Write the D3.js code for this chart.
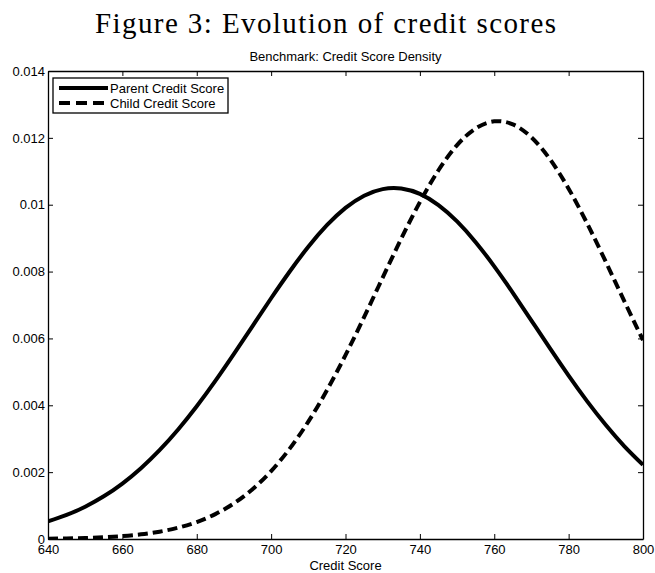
<!DOCTYPE html>
<html>
<head>
<meta charset="utf-8">
<script src="https://cdn.jsdelivr.net/npm/d3@7"></script>
<style>
  body { margin: 0; background: #fff; }
  text { font-family: "Liberation Sans", Arial, sans-serif; }
</style>
</head>
<body>
<div id="chart-area"></div>
<script>
// credit score grid (x values)
var scores = [640,645,650,655,660,665,670,675,680,685,690,695,700,705,710,715,720,
    725,730,735,740,745,750,755,760,765,770,775,780,785,790,795,800];

var parentDensity = [0.000525,0.000719,0.000967,0.001277,0.001659,0.002118,0.002657,
    0.003276,0.003970,0.004728,0.005536,0.006368,0.007202,0.008003,0.008742,0.009386,
    0.009904,0.010270,0.010467,0.010485,0.010324,0.009989,0.009500,0.008880,0.008157,
    0.007365,0.006536,0.005700,0.004887,0.004117,0.003409,0.002774,0.002219];

var childDensity = [0.0000098,0.0000175,0.0000305,0.0000518,0.0000859,0.000139,0.000219,
    0.000338,0.000508,0.000745,0.001067,0.001490,0.002031,0.002704,0.003510,0.004449,
    0.005501,0.006639,0.007819,0.008986,0.010079,0.011031,0.011783,0.012282,0.012494,
    0.012403,0.012015,0.011359,0.010480,0.009435,0.008291,0.007109,0.005948];

var xTicks = [640,660,680,700,720,740,760,780,800];
var yTicks = [0,0.002,0.004,0.006,0.008,0.01,0.012,0.014];
var seriesNames = ["Parent Credit Score", "Child Credit Score"];

var margin = { left: 48, right: 12, top: 71, bottom: 34 };
var width = 655 - margin.left - margin.right;
var height = 573 - margin.top - margin.bottom;

var svg = d3.select("#chart-area").append("svg")
    .attr("width", 655)
    .attr("height", 573);

// figure caption
svg.append("text")
    .attr("x", 95)
    .attr("y", 33)
    .style("font-family", "'Liberation Serif', 'DejaVu Serif', serif")
    .attr("font-size", "29px")
    .attr("textLength", 461)
    .attr("lengthAdjust", "spacing")
    .text("Figure 3: Evolution of credit scores");

var g = svg.append("g")
    .attr("transform", "translate(" + margin.left + ", " + margin.top + ")");

var x = d3.scaleLinear().domain([640, 800]).range([0, width]);
var y = d3.scaleLinear().domain([0, 0.014]).range([height, 0]);

// plot title
g.append("text")
    .attr("x", width / 2)
    .attr("y", -10)
    .attr("text-anchor", "middle")
    .attr("font-size", "13px")
    .text("Benchmark: Credit Score Density");

g.append("defs").append("clipPath").attr("id", "clip")
    .append("rect").attr("width", width).attr("height", height);

// curves
var line = d3.line()
    .x((d) => x(d[0]))
    .y((d) => y(d[1]))
    .curve(d3.curveNatural);

g.append("path")
    .datum(scores.map((s, i) => [s, parentDensity[i]]))
    .attr("clip-path", "url(#clip)")
    .attr("fill", "none")
    .attr("stroke", "black")
    .attr("stroke-width", 4)
    .attr("d", line);

g.append("path")
    .datum(scores.map((s, i) => [s, childDensity[i]]))
    .attr("clip-path", "url(#clip)")
    .attr("fill", "none")
    .attr("stroke", "black")
    .attr("stroke-width", 4)
    .attr("stroke-dasharray", "10,5")
    .attr("d", line);

// axes, MATLAB style: ticks inside on all four sides
var fmtY = (d) => d === 0 ? "0" : d3.format("")(+d.toFixed(3));

g.append("g")
    .attr("class", "bottom axis")
    .attr("transform", "translate(0, " + height + ")")
    .call(d3.axisBottom(x).tickValues(xTicks).tickSizeInner(-5).tickSizeOuter(0).tickPadding(6))
    .call((a) => a.selectAll("text").attr("font-size", "13px").style("font-family", "'Liberation Sans', Arial, sans-serif"));

g.append("g")
    .attr("class", "left axis")
    .call(d3.axisLeft(y).tickValues(yTicks).tickFormat(fmtY).tickSizeInner(-5).tickSizeOuter(0).tickPadding(3))
    .call((a) => a.selectAll("text").attr("font-size", "13px").style("font-family", "'Liberation Sans', Arial, sans-serif"));

g.append("g")
    .attr("class", "top axis")
    .call(d3.axisTop(x).tickValues(xTicks).tickFormat("").tickSizeInner(-5).tickSizeOuter(0));

g.append("g")
    .attr("class", "right axis")
    .attr("transform", "translate(" + width + ", 0)")
    .call(d3.axisRight(y).tickValues(yTicks).tickFormat("").tickSizeInner(-5).tickSizeOuter(0));

g.selectAll(".axis path").attr("stroke", "black").attr("stroke-width", 1.3);
g.selectAll(".axis line").attr("stroke", "black");

// x label
g.append("text")
    .attr("x", width / 2)
    .attr("y", height + 31)
    .attr("text-anchor", "middle")
    .attr("font-size", "13px")
    .text("Credit Score");

// legend
var legend = g.append("g").attr("transform", "translate(5, 7)");
legend.append("rect")
    .attr("width", 175)
    .attr("height", 35)
    .attr("fill", "white")
    .attr("stroke", "black")
    .attr("stroke-width", 1.3);

seriesNames.forEach((name, i) => {
    var ly = 10 + i * 15;
    legend.append("line")
        .attr("x1", 6).attr("x2", 55)
        .attr("y1", ly).attr("y2", ly)
        .attr("stroke", "black")
        .attr("stroke-width", 4)
        .attr("stroke-dasharray", i === 1 ? "11,6" : null);
    legend.append("text")
        .attr("x", 57)
        .attr("y", ly + 5)
        .attr("font-size", "13px")
        .text(name);
});
</script>
</body>
</html>
